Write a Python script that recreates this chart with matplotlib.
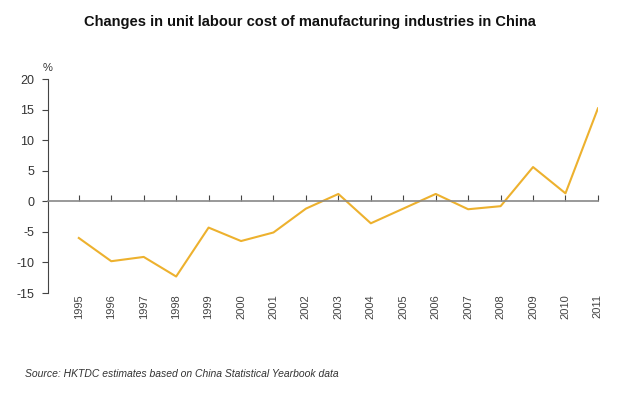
import matplotlib
matplotlib.use("Agg")
import matplotlib.pyplot as plt

years = list(range(1995, 2012))
year_labels = [str(y) for y in years]
cost_change = [-6.0, -9.8, -9.1, -12.3, -4.3, -6.5, -5.1, -1.2, 1.2,
               -3.6, -1.2, 1.2, -1.3, -0.8, 5.6, 1.3, 15.2]
y_ticks = [-15, -10, -5, 0, 5, 10, 15, 20]

plt.rcParams['font.family'] = ['Liberation Sans', 'DejaVu Sans']
plt.rcParams['axes.unicode_minus'] = False

fig = plt.figure(figsize=(6.2, 3.98), dpi=100)
ax = fig.add_axes([0.0774, 0.2638, 0.887, 0.5377])

ax.plot(years, cost_change, color='#EDB12E', linewidth=1.5)

# spines: left axis plus a zero line carrying the year ticks
for side in ['top', 'right']:
    ax.spines[side].set_visible(False)
ax.spines['left'].set_color('#444444')
ax.spines['bottom'].set_position(('data', 0))
ax.spines['bottom'].set_color('#888888')
ax.spines['bottom'].set_linewidth(1.2)

ax.set_xlim(1994.05, 2011.0)
ax.set_ylim(-15, 20)
ax.set_yticks(y_ticks)
ax.set_xticks(years)
ax.set_xticklabels(year_labels, rotation=90, va='top')

ax.tick_params(axis='y', direction='out', length=4, color='#444444',
               labelsize=9, labelcolor='#333333', pad=6)
ax.tick_params(axis='x', direction='in', length=4, color='#444444',
               labelsize=8, labelcolor='#444444', pad=67)

ax.text(0.0, 1.03, '%', transform=ax.transAxes, fontsize=8,
        color='#333333', ha='center', va='bottom')

fig.text(0.5, 0.945, 'Changes in unit labour cost of manufacturing industries in China',
         ha='center', va='center', fontsize=10.5, fontweight='bold', color='#111111')
fig.text(0.04, 0.06, 'Source: HKTDC estimates based on China Statistical Yearbook data',
         ha='left', va='center', fontsize=7.5, style='italic', color='#333333')

fig.savefig('out.png', dpi=100)
